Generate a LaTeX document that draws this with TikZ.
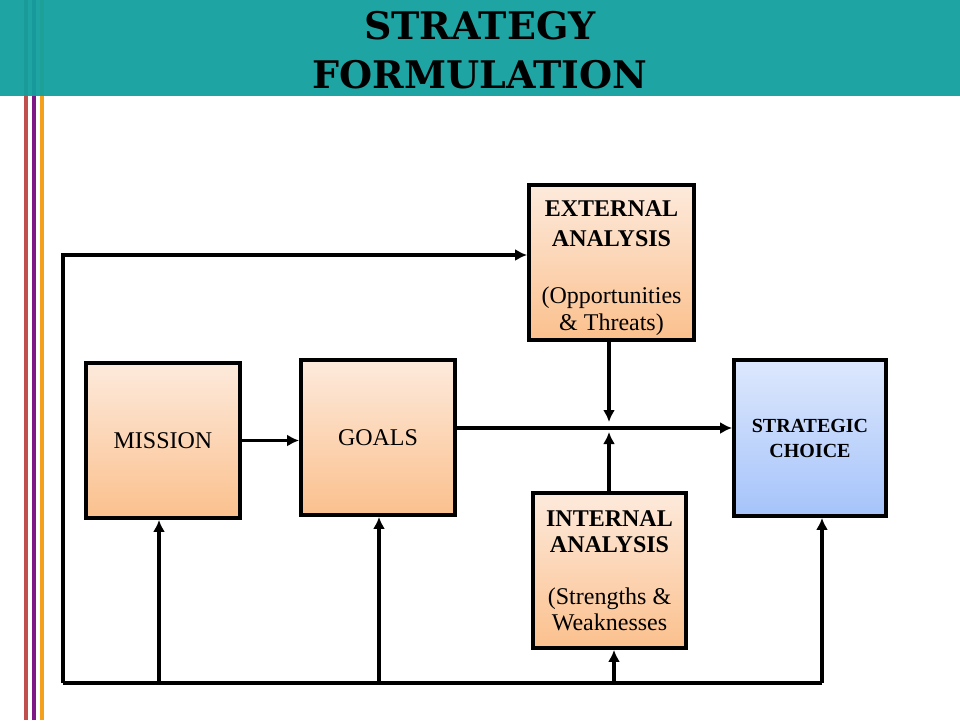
\documentclass[tikz,border=0pt]{standalone}
\usepackage{fontspec}
\setmainfont{Liberation Serif}
\newfontfamily\titlefont{DejaVu Serif}
\usepackage{xcolor}
\usepackage{tikz}
\usetikzlibrary{positioning}
\usetikzlibrary{arrows.meta}
\usetikzlibrary{shadows}
\definecolor{headteal}{HTML}{12A09E}
\definecolor{stripered}{HTML}{C0504D}
\definecolor{stripepurple}{HTML}{7F1786}
\definecolor{stripeorange}{HTML}{F4A01C}
\definecolor{peachtop}{HTML}{FDEADC}
\definecolor{peachbot}{HTML}{FBC08D}
\definecolor{bluetop}{HTML}{DDE8FD}
\definecolor{bluebot}{HTML}{A5C3FA}

\begin{document}
\begin{tikzpicture}[x=1pt, y=-1pt,
stagebox/.style={rectangle, draw=black, line width=3.8pt, align=center, inner sep=2pt, top color=peachtop, bottom color=peachbot, drop shadow={opacity=0.35, shadow xshift=2pt, shadow yshift=-2pt}, font=\fontsize{24}{27}\selectfont},
choicebox/.style={stagebox, top color=bluetop, bottom color=bluebot, font=\bfseries\fontsize{20}{25}\selectfont},
flow/.style={line width=3.6pt, -{Latex[length=12pt, width=12pt]}},
link/.style={line width=3.6pt},
]
\useasboundingbox (0,0) rectangle (960,720);
% \draw[help lines,step=20pt,gray!20] (0,0) grid (960,720);
%Slide
\fill[stripered] (24,0) rectangle (28,720);
\fill[stripepurple] (32,0) rectangle (36,720);
\fill[stripeorange] (40,0) rectangle (44,720);
\fill[headteal, fill opacity=0.95] (0,0) rectangle (960,96);
\node[font=\titlefont\bfseries\fontsize{38}{49}\selectfont, align=center] (title) at (480,50) {STRATEGY\\FORMULATION};
%Nodes
\node[stagebox, minimum width=154pt, minimum height=155pt] (mission) at (163,440.5) {MISSION};
\node[stagebox, minimum width=154pt, minimum height=155pt] (goals) at (378,437.5) {GOALS};
\node[stagebox, minimum width=165pt, minimum height=155pt] (external) at (611.5,262.5)
  {\mbox{}\\[1pt]\textbf{EXTERNAL}\\[3pt]\textbf{ANALYSIS}\\[30pt](Opportunities\\\& Threats)};
\node[stagebox, minimum width=153pt, minimum height=155pt, font=\fontsize{24}{26}\selectfont] (internal) at (609.5,570.5)
  {\textbf{INTERNAL}\\\textbf{ANALYSIS}\\ \\(Strengths \&\\Weaknesses};
\node[choicebox, minimum width=152pt, minimum height=156pt] (choice) at (810,438) {STRATEGIC\\CHOICE};
\coordinate (loop_bot) at (63,683);
\coordinate (loop_top) at (63,255);
\coordinate (loop_end) at (822,683);
\coordinate (junction) at (609,428);
%Lines
\draw[link] (loop_bot) -- (loop_end);
\draw[flow] (loop_bot) -- (loop_top) -- (loop_top -| external.west);
\draw[flow] ([xshift=-4pt]mission.south |- loop_bot) -- ([xshift=-4pt]mission.south);
\draw[flow] ([xshift=1pt]goals.south |- loop_bot) -- ([xshift=1pt]goals.south);
\draw[flow] ([xshift=4.5pt]internal.south |- loop_bot) -- ([xshift=4.5pt]internal.south);
\draw[flow] ([xshift=12pt]choice.south |- loop_bot) -- ([xshift=12pt]choice.south);
\draw[flow] (mission.east) -- (mission.east -| goals.west);
\draw[flow] (junction -| goals.east) -- (junction -| choice.west);
\draw[flow] (junction |- external.south) -- ([yshift=6pt]junction);
\draw[flow] (internal.north -| junction) -- ([yshift=-4pt]junction);
\end{tikzpicture}
\end{document}
